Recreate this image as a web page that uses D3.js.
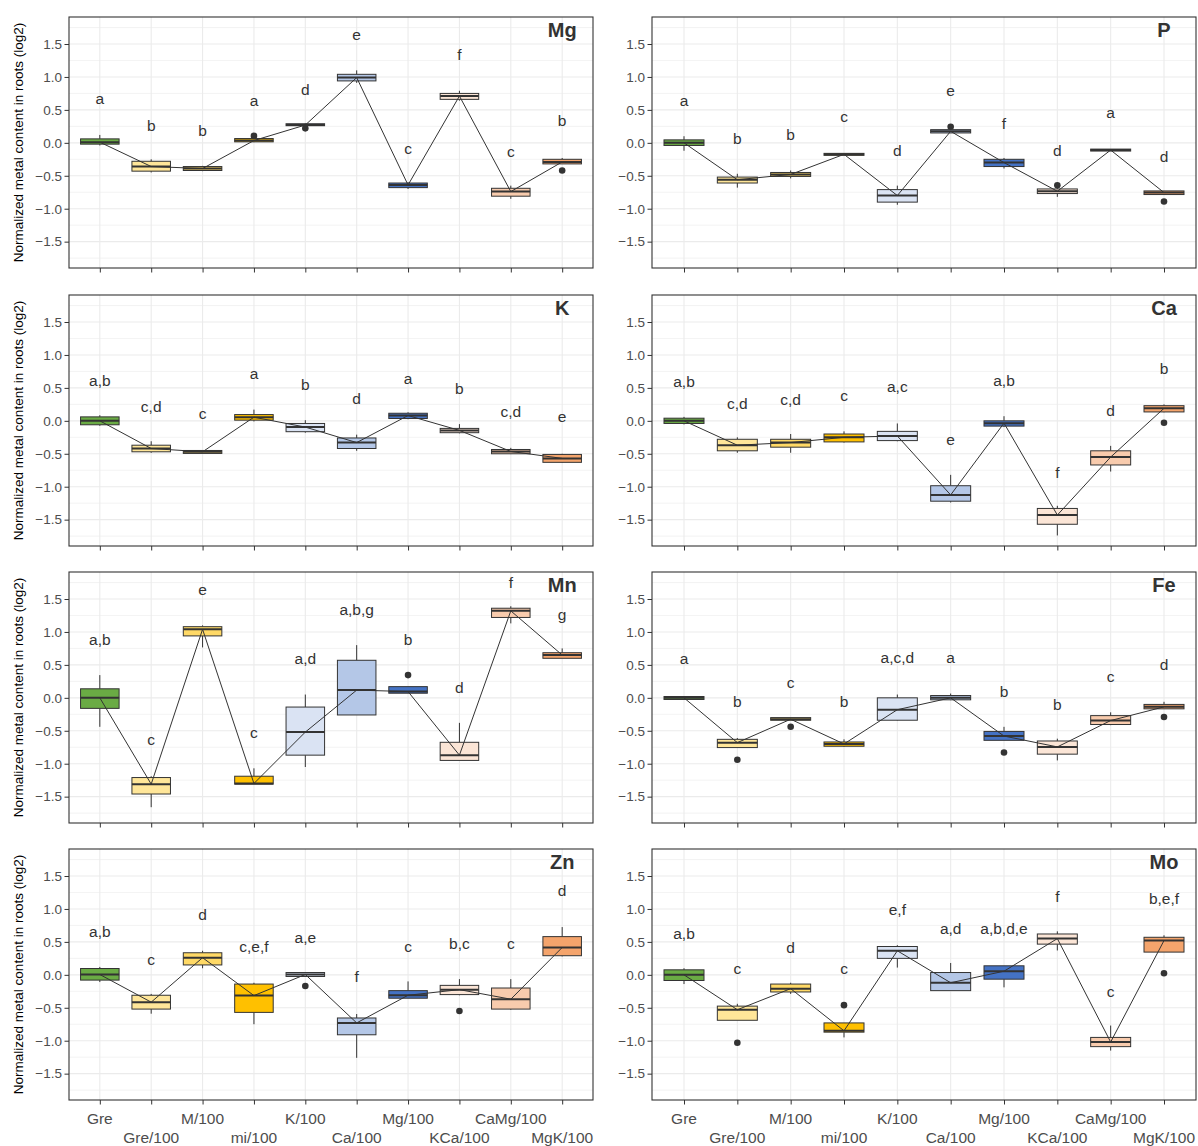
<!DOCTYPE html>
<html>
<head>
<meta charset="utf-8">
<script src="https://cdn.jsdelivr.net/npm/d3@7"></script>
<style>
  html, body { margin: 0; padding: 0; background: #fff; }
  svg { display: block; font-family: Arial, "Liberation Sans", sans-serif; }
</style>
</head>
<body>
<svg id="chart" width="1198" height="1146"></svg>
<script>
// treatments on the x axis, same order in every panel
const categories = ["Gre", "Gre/100", "M/100", "mi/100", "K/100", "Ca/100", "Mg/100", "KCa/100", "CaMg/100", "MgK/100"];
const elements = ["Mg", "P", "K", "Ca", "Mn", "Fe", "Zn", "Mo"];
const yTicks = [-1.5, -1.0, -0.5, 0.0, 0.5, 1.0, 1.5];

// box stats per treatment: [low whisker, q1, median, q3, high whisker]
const mgBoxes = [[-0.04, -0.02, 0.01, 0.06, 0.12], [-0.45, -0.43, -0.36, -0.28, -0.25], [-0.43, -0.42, -0.39, -0.36, -0.35],
  [0.01, 0.015, 0.035, 0.065, 0.07], [0.25, 0.26, 0.27, 0.29, 0.30], [0.91, 0.94, 0.99, 1.04, 1.10],
  [-0.70, -0.68, -0.64, -0.61, -0.60], [0.64, 0.66, 0.71, 0.75, 0.79], [-0.85, -0.81, -0.74, -0.69, -0.65],
  [-0.32, -0.32, -0.29, -0.25, -0.23]];
const mgLetters = ["a", "b", "b", "a", "d", "e", "c", "f", "c", "b"];
const mgLetterY = [0.67, 0.27, 0.19, 0.64, 0.81, 1.64, -0.09, 1.34, -0.13, 0.34];
const mgOutliers = [[3, 0.105], [4, 0.22], [9, -0.42]];

const pBoxes = [[-0.12, -0.04, 0.0, 0.045, 0.10], [-0.68, -0.61, -0.56, -0.52, -0.47], [-0.54, -0.51, -0.48, -0.45, -0.42],
  [-0.19, -0.19, -0.175, -0.16, -0.16], [-0.94, -0.90, -0.80, -0.71, -0.65], [0.15, 0.15, 0.175, 0.20, 0.20],
  [-0.39, -0.36, -0.30, -0.25, -0.23], [-0.82, -0.77, -0.735, -0.70, -0.68], [-0.125, -0.125, -0.11, -0.095, -0.095],
  [-0.785, -0.785, -0.755, -0.73, -0.73]];
const pLetters = ["a", "b", "b", "c", "d", "e", "f", "d", "a", "d"];
const pLetterY = [0.64, 0.07, 0.13, 0.40, -0.11, 0.80, 0.29, -0.11, 0.46, -0.20];
const pOutliers = [[5, 0.245], [7, -0.645], [9, -0.89]];

const kBoxes = [[-0.075, -0.06, 0.0, 0.06, 0.085], [-0.485, -0.47, -0.42, -0.37, -0.31], [-0.495, -0.495, -0.47, -0.45, -0.45],
  [-0.01, 0.01, 0.055, 0.095, 0.17], [-0.18, -0.165, -0.095, -0.04, 0.01], [-0.455, -0.42, -0.33, -0.26, -0.21],
  [0.025, 0.035, 0.08, 0.115, 0.13], [-0.19, -0.18, -0.145, -0.115, -0.05], [-0.505, -0.50, -0.465, -0.435, -0.41],
  [-0.635, -0.63, -0.57, -0.51, -0.50]];
const kLetters = ["a,b", "c,d", "c", "a", "b", "d", "a", "b", "c,d", "e"];
const kLetterY = [0.62, 0.22, 0.11, 0.72, 0.55, 0.34, 0.65, 0.49, 0.15, 0.06];
const kOutliers = [];

const caBoxes = [[-0.055, -0.04, 0.0, 0.04, 0.06], [-0.485, -0.455, -0.37, -0.28, -0.25], [-0.485, -0.40, -0.33, -0.28, -0.20],
  [-0.33, -0.32, -0.25, -0.20, -0.16], [-0.31, -0.30, -0.23, -0.16, -0.04], [-1.24, -1.22, -1.125, -0.985, -0.82],
  [-0.095, -0.08, -0.035, 0.0, 0.07], [-1.74, -1.57, -1.43, -1.33, -1.29], [-0.77, -0.67, -0.55, -0.455, -0.38],
  [0.13, 0.135, 0.19, 0.23, 0.25]];
const caLetters = ["a,b", "c,d", "c,d", "c", "a,c", "e", "a,b", "f", "d", "b"];
const caLetterY = [0.60, 0.26, 0.33, 0.38, 0.52, -0.28, 0.62, -0.78, 0.16, 0.79];
const caOutliers = [[9, -0.03]];

const mnBoxes = [[-0.44, -0.16, 0.0, 0.137, 0.345], [-1.66, -1.46, -1.31, -1.21, -1.19], [0.765, 0.94, 1.04, 1.08, 1.10],
  [-1.31, -1.31, -1.30, -1.19, -1.07], [-1.05, -0.87, -0.52, -0.14, 0.05], [-0.26, -0.26, 0.117, 0.57, 0.80],
  [0.07, 0.07, 0.095, 0.17, 0.17], [-0.95, -0.95, -0.87, -0.675, -0.38], [1.13, 1.22, 1.32, 1.36, 1.39],
  [0.60, 0.60, 0.65, 0.685, 0.75]];
const mnLetters = ["a,b", "c", "e", "c", "a,d", "a,b,g", "b", "d", "f", "g"];
const mnLetterY = [0.89, -0.63, 1.64, -0.53, 0.60, 1.34, 0.89, 0.16, 1.75, 1.27];
const mnOutliers = [[6, 0.345]];

const feBoxes = [[-0.025, -0.025, 0.0, 0.02, 0.02], [-0.755, -0.755, -0.68, -0.63, -0.61], [-0.34, -0.34, -0.325, -0.30, -0.30],
  [-0.745, -0.735, -0.70, -0.67, -0.63], [-0.345, -0.34, -0.18, 0.0, 0.05], [-0.035, -0.03, 0.0, 0.035, 0.065],
  [-0.645, -0.645, -0.58, -0.51, -0.44], [-0.95, -0.855, -0.745, -0.655, -0.62], [-0.415, -0.405, -0.345, -0.27, -0.22],
  [-0.17, -0.167, -0.137, -0.10, -0.06]];
const feLetters = ["a", "b", "c", "b", "a,c,d", "a", "b", "b", "c", "d"];
const feLetterY = [0.60, -0.05, 0.23, -0.05, 0.61, 0.61, 0.10, -0.10, 0.33, 0.50];
const feOutliers = [[1, -0.94], [2, -0.44], [6, -0.83], [9, -0.29]];

const znBoxes = [[-0.11, -0.08, 0.005, 0.096, 0.12], [-0.59, -0.52, -0.415, -0.31, -0.29], [0.10, 0.15, 0.26, 0.335, 0.365],
  [-0.75, -0.57, -0.315, -0.14, -0.12], [-0.025, -0.025, 0.005, 0.035, 0.035], [-1.26, -0.91, -0.73, -0.655, -0.595],
  [-0.355, -0.355, -0.31, -0.24, -0.10], [-0.31, -0.30, -0.225, -0.16, -0.065], [-0.53, -0.52, -0.37, -0.20, -0.065],
  [0.28, 0.29, 0.415, 0.58, 0.725]];
const znLetters = ["a,b", "c", "d", "c,e,f", "a,e", "f", "c", "b,c", "c", "d"];
const znLetterY = [0.66, 0.24, 0.91, 0.43, 0.57, -0.03, 0.43, 0.48, 0.48, 1.28];
const znOutliers = [[4, -0.17], [7, -0.55]];

const moBoxes = [[-0.14, -0.086, 0.0, 0.076, 0.10], [-0.69, -0.69, -0.53, -0.475, -0.44], [-0.29, -0.26, -0.21, -0.14, -0.12],
  [-0.95, -0.87, -0.85, -0.73, -0.73], [0.11, 0.25, 0.365, 0.43, 0.45], [-0.24, -0.24, -0.12, 0.035, 0.18],
  [-0.19, -0.066, 0.055, 0.137, 0.137], [0.37, 0.466, 0.55, 0.62, 0.66], [-1.15, -1.09, -1.02, -0.95, -0.77],
  [0.345, 0.345, 0.52, 0.57, 0.60]];
const moLetters = ["a,b", "c", "d", "c", "e,f", "a,d", "a,b,d,e", "f", "c", "b,e,f"];
const moLetterY = [0.63, 0.10, 0.42, 0.09, 1.0, 0.71, 0.70, 1.19, -0.25, 1.16];
const moOutliers = [[1, -1.03], [3, -0.46], [9, 0.025]];

const panels = [
  { name: "Mg", boxes: mgBoxes, letters: mgLetters, letterY: mgLetterY, outliers: mgOutliers },
  { name: "P", boxes: pBoxes, letters: pLetters, letterY: pLetterY, outliers: pOutliers },
  { name: "K", boxes: kBoxes, letters: kLetters, letterY: kLetterY, outliers: kOutliers },
  { name: "Ca", boxes: caBoxes, letters: caLetters, letterY: caLetterY, outliers: caOutliers },
  { name: "Mn", boxes: mnBoxes, letters: mnLetters, letterY: mnLetterY, outliers: mnOutliers },
  { name: "Fe", boxes: feBoxes, letters: feLetters, letterY: feLetterY, outliers: feOutliers },
  { name: "Zn", boxes: znBoxes, letters: znLetters, letterY: znLetterY, outliers: znOutliers },
  { name: "Mo", boxes: moBoxes, letters: moLetters, letterY: moLetterY, outliers: moOutliers },
];

// 样式
const FILLS = ["#6AAB44", "#FFE699", "#FFD966", "#FFC000", "#DAE3F3", "#B4C7E7", "#4472C4", "#FBE5D6", "#F8CBAD", "#F4A46C"];
const INK = "#333333", AXIS_TXT = "#4d4d4d", GRID = "#ebebeb";
const COLS = [{ x0: 69, x1: 593 }, { x0: 652, x1: 1196 }];
const ROW_TOP = [17, 295, 572, 849], PH = 251;

const svg = d3.select("#chart");

panels.forEach((p, i) => {
  const col = COLS[i % 2], top = ROW_TOP[Math.floor(i / 2)];
  const isBottom = i >= 6, isLeft = i % 2 === 0;
  const x = d3.scalePoint().domain(categories).range([col.x0, col.x1]).padding(0.6);
  const y = d3.scaleLinear().domain([-1.9, 1.91]).range([top + PH, top]);
  const g = svg.append("g");
  const bw = x.step() * 0.75;

  // 网格：次网格 + 主网格
  d3.range(-1.75, 1.9, 0.5).forEach(v => {
    g.append("line").attr("x1", col.x0).attr("x2", col.x1).attr("y1", y(v)).attr("y2", y(v))
      .attr("stroke", GRID).attr("stroke-width", 0.6);
  });
  yTicks.forEach(v => {
    g.append("line").attr("x1", col.x0).attr("x2", col.x1).attr("y1", y(v)).attr("y2", y(v))
      .attr("stroke", GRID).attr("stroke-width", 1.1);
  });
  categories.forEach(c => {
    g.append("line").attr("x1", x(c)).attr("x2", x(c)).attr("y1", top).attr("y2", top + PH)
      .attr("stroke", GRID).attr("stroke-width", 1.1);
  });

  // 坐标轴
  const yAx = g.append("g").attr("transform", `translate(${col.x0},0)`)
    .call(d3.axisLeft(y).tickValues(yTicks).tickSize(4.5).tickPadding(2.5).tickFormat(d3.format(".1f")));
  yAx.select(".domain").remove();
  yAx.selectAll("line").attr("stroke", INK);
  yAx.selectAll("text").attr("fill", AXIS_TXT).style("font-size", "13.5px").style("font-family", "Arial, 'Liberation Sans', sans-serif");

  const xAx = g.append("g").attr("transform", `translate(0,${top + PH})`)
    .call(d3.axisBottom(x).tickSize(4.5).tickFormat(""));
  xAx.select(".domain").remove();
  xAx.selectAll("line").attr("stroke", INK);
  if (isBottom) {
    categories.forEach((c, k) => {
      g.append("text").attr("x", x(c)).attr("y", top + PH + (k % 2 === 0 ? 23.5 : 43))
        .attr("text-anchor", "middle").attr("fill", AXIS_TXT)
        .style("font-size", "15.5px").text(c);
    });
  }

  // 盒须
  p.boxes.forEach((b, k) => {
    const cx = x(categories[k]);
    g.append("line").attr("x1", cx).attr("x2", cx).attr("y1", y(b[4])).attr("y2", y(b[3]))
      .attr("stroke", INK).attr("stroke-width", 1);
    g.append("line").attr("x1", cx).attr("x2", cx).attr("y1", y(b[1])).attr("y2", y(b[0]))
      .attr("stroke", INK).attr("stroke-width", 1);
    g.append("rect").attr("x", cx - bw / 2).attr("width", bw)
      .attr("y", y(b[3])).attr("height", Math.max(0.5, y(b[1]) - y(b[3])))
      .attr("fill", FILLS[k]).attr("stroke", INK).attr("stroke-width", 1);
    g.append("line").attr("x1", cx - bw / 2).attr("x2", cx + bw / 2).attr("y1", y(b[2])).attr("y2", y(b[2]))
      .attr("stroke", INK).attr("stroke-width", 2);
  });
  p.outliers.forEach(([k, v]) => {
    g.append("circle").attr("cx", x(categories[k])).attr("cy", y(v)).attr("r", 3.3).attr("fill", INK);
  });

  // 中位数连线
  const line = d3.line().x((b, k) => x(categories[k])).y(b => y(b[2]));
  g.append("path").attr("d", line(p.boxes)).attr("fill", "none").attr("stroke", INK).attr("stroke-width", 1);

  // 显著性字母
  p.letters.forEach((t, k) => {
    g.append("text").attr("x", x(categories[k])).attr("y", y(p.letterY[k])).attr("dy", "0.36em")
      .attr("text-anchor", "middle").attr("fill", INK).style("font-size", "15.5px").text(t);
  });

  // 元素名
  g.append("text").attr("x", x(categories[9])).attr("y", y(1.71)).attr("dy", "0.36em")
    .attr("text-anchor", "middle").attr("fill", INK)
    .style("font-size", "20px").style("font-weight", "bold").text(p.name);

  // 边框
  g.append("rect").attr("x", col.x0).attr("y", top).attr("width", col.x1 - col.x0).attr("height", PH)
    .attr("fill", "none").attr("stroke", INK).attr("stroke-width", 1.1);

  if (isLeft) {
    g.append("text").attr("transform", `translate(18,${top + PH / 2}) rotate(-90)`)
      .attr("text-anchor", "middle").attr("dy", "0.36em").attr("fill", "#000")
      .style("font-size", "13.5px").text("Normalized metal content in roots (log2)");
  }
});
</script>
</body>
</html>
